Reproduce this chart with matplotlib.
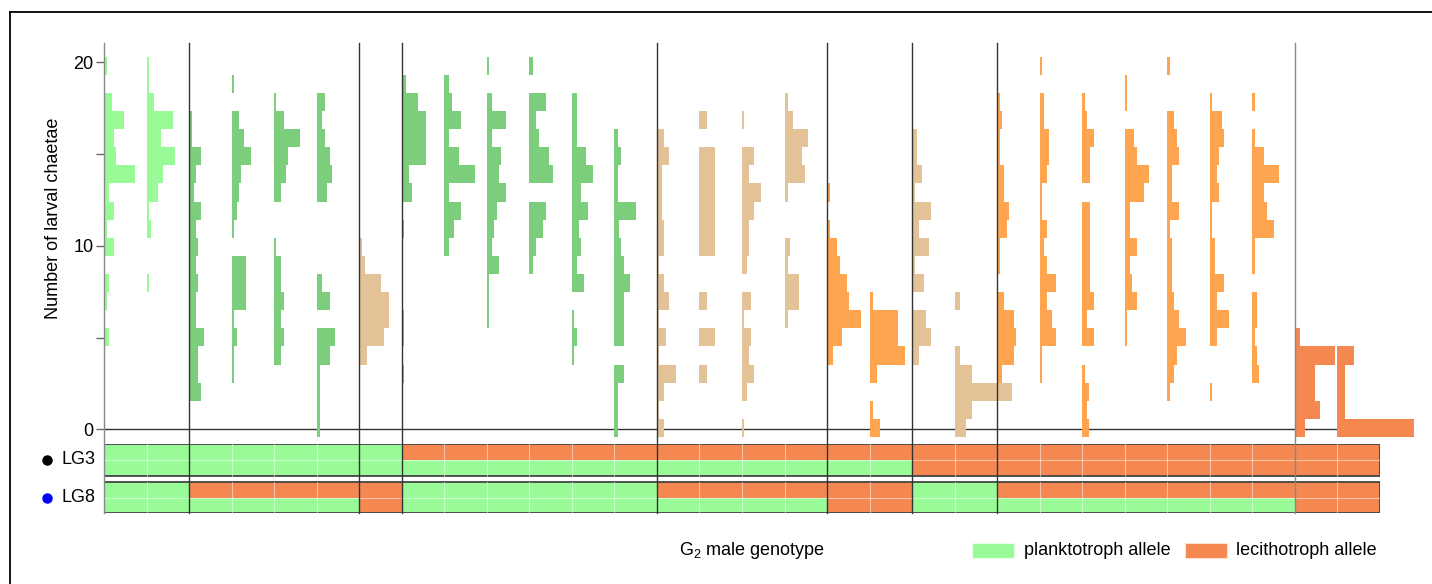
import numpy as np
import matplotlib.pyplot as plt
from matplotlib.patches import Rectangle
from matplotlib.lines import Line2D
from matplotlib.transforms import blended_transform_factory

plt.rcParams['font.family'] = 'Liberation Sans'
plt.rcParams['mathtext.fontset'] = 'custom'
plt.rcParams['mathtext.rm'] = 'Liberation Sans'

# G2 male genotype groups (families per group), P = planktotroph, L = lecithotroph
group_sizes = [2, 4, 1, 6, 4, 2, 2, 7, 2]
lg3 = ['PP', 'PP', 'PP', 'LP', 'LP', 'LP', 'LL', 'LL', 'LL']
lg8 = ['PP', 'LP', 'LL', 'PP', 'LP', 'LL', 'PP', 'LP', 'LL']

# frequency of larval chaetae counts 0,1,2,... per family (trailing zeros left out)
fam01 = [0, 0, 0, 0, 0, 5.3, 0, 3, 5.3, 0, 10.3, 3, 10.3, 5.3, 31.3, 12, 10.3, 19.7, 7.7, 0, 3]
fam02 = [0, 0, 0, 0, 0, 0, 0, 0, 2.3, 0, 0, 4.7, 2.3, 11.7, 16.7, 28.3, 14.3, 26, 7, 2.3, 2.3]
fam03 = [0, 0, 12, 9.3, 9.3, 14.7, 6.7, 6.7, 9.3, 6.7, 9.3, 6.7, 12, 5, 6.7, 12, 2.7, 2.7]
fam04 = [0, 0, 0, 2.7, 2.7, 5, 2.7, 14.3, 14.3, 14.3, 0, 2.7, 5, 7.3, 9.7, 19.3, 12.3, 7.3, 0, 2.7]
fam05 = [0, 0, 0, 0, 7.3, 9.7, 7.3, 9.7, 7.3, 7.3, 2.3, 0, 0, 7.3, 12, 14.3, 26.3, 9.7, 2.3]
fam06 = [3, 3, 3, 3, 13, 18, 0, 13, 5.3, 0, 0, 0, 0, 10.3, 15.3, 13, 8, 5.3, 8]
fam07 = [0, 0, 0, 0, 7.7, 24.3, 29.3, 29.3, 22, 5.3, 3]
fam08 = [0, 0, 0, 2.7, 0, 2.7, 2.7, 0, 0, 0, 0, 2.7, 0, 10, 7.3, 24, 24, 24, 16.7, 4.7]
fam09 = [0, 0, 0, 0, 0, 0, 0, 0, 0, 0, 4.7, 9.7, 16.7, 4.7, 31, 14.3, 4.7, 16.7, 7.3, 4.7]
fam10 = [0, 0, 0, 0, 0, 0, 2.3, 2.3, 2.3, 12, 5, 7.3, 9.7, 19, 12, 14.3, 5, 19, 5, 0, 2.3]
fam11 = [0, 0, 0, 0, 0, 0, 0, 0, 0, 3.3, 6.3, 13.3, 16.7, 0, 23.3, 19.7, 9.7, 7, 16.7, 0, 3.3]
fam12 = [0, 0, 0, 0, 2.3, 4.7, 2.3, 0, 11.7, 4.7, 9.3, 7, 16.3, 9.3, 21, 14, 4.7, 4.7, 4.7]
fam13 = [3.3, 3.3, 3.3, 9.3, 0, 9.3, 9.3, 9.3, 15.7, 9.3, 6.3, 4.7, 22, 3.3, 3.3, 6.3, 3.3]
fam14 = [7, 2.3, 7, 19, 2.3, 9.3, 2.3, 11.7, 7, 2.3, 7, 7, 4.7, 4.7, 4.7, 11.7, 7]
fam15 = [0, 0, 0, 8, 0, 16, 0, 8, 0, 0, 16, 16, 16, 16, 16, 16, 0, 8]
fam16 = [2.3, 0, 4.7, 12, 7, 9.3, 2.3, 9.3, 0, 4.7, 7, 7, 12, 19, 7, 12, 0, 2.3]
fam17 = [0, 0, 0, 0, 0, 0, 3, 14.3, 14.3, 3, 5.7, 0, 0, 3, 20.7, 17.3, 23.3, 8.7, 3]
fam18 = [0, 0, 0, 0, 5.7, 15, 34, 22, 19.7, 12.7, 10, 3.3, 0, 3.3]
fam19 = [10.7, 3.3, 0, 7.3, 35.7, 28.7, 28.7, 3.3]
fam20 = [0, 0, 0, 0, 7.3, 19.3, 14.3, 0, 12, 2.7, 17, 7.3, 19.3, 2.7, 10, 5, 5]
fam21 = [11.3, 17.7, 57.7, 17.7, 5.7, 0, 0, 5.7]
fam22 = [0, 0, 0, 4.7, 16.3, 19, 16.3, 7, 0, 2.3, 2.3, 9.3, 11.7, 7, 7, 2.3, 2.3, 4.7, 2.3]
fam23 = [0, 0, 0, 2.3, 2.3, 16.7, 12, 7, 16.7, 7, 4.7, 7, 2.3, 2.3, 7, 9.3, 9.3, 4.7, 4.7, 0, 2.3]
fam24 = [6.7, 5, 6.7, 2.7, 0, 12, 5, 12, 7.3, 7.3, 7.3, 7.3, 7.3, 0, 7.3, 7.3, 12, 5, 2.7]
fam25 = [0, 0, 0, 0, 0, 2.3, 2.3, 11.7, 7, 4.7, 11.7, 4.7, 4.7, 18.7, 23.7, 11.7, 9.3, 0, 2.3, 2.3]
fam26 = [0, 0, 2.3, 7, 9.3, 19, 12, 7, 4.7, 4.7, 4.7, 2.3, 12, 4.7, 4.7, 12, 9.3, 7, 0, 0, 2.3]
fam27 = [0, 0, 2.3, 0, 0, 7, 19, 7, 14.3, 4.7, 4.7, 2.3, 2.3, 9.3, 7, 9.3, 14.3, 12, 2.3]
fam28 = [0, 0, 0, 7, 4.7, 2.7, 4.7, 4.7, 0, 2.3, 2.3, 21.3, 14.3, 12, 26.3, 12, 2.7, 0, 2.7]
fam29 = [9.7, 24.7, 20, 20, 39.7, 4.7]
fam30 = [76, 8, 8, 8, 16.7]

families = [fam01, fam02, fam03, fam04, fam05, fam06, fam07, fam08, fam09, fam10,
            fam11, fam12, fam13, fam14, fam15, fam16, fam17, fam18, fam19, fam20,
            fam21, fam22, fam23, fam24, fam25, fam26, fam27, fam28, fam29, fam30]

# colour by number of lecithotroph alleles (0..4)
hist_colors = ['#98FB98', '#7CCD7C', '#E2C296', '#FFA54F', '#F58750']
allele_color = {'P': '#98FB98', 'L': '#F58750'}

COL_SCALE = 42.5          # frequency units spanned by one family column
nbins = 21
bw = 0.987
edges = -0.42 + bw * np.arange(nbins + 1)
centers = (edges[:-1] + edges[1:]) / 2

W, H = 1432, 584
fig = plt.figure(figsize=(W / 100, H / 100), dpi=100)

def fx(x):
    return x / W

def fy(y):
    return 1 - y / H

ax = fig.add_axes([fx(104), fy(437), (1380 - 104) / W, (437 - 43.3) / H])
ax.set_xlim(0, 30)
ax.set_ylim(-0.42, 21.04)
for s in ax.spines.values():
    s.set_visible(False)
ax.set_xticks([])
ax.set_yticks([0, 5, 10, 15, 20])
ax.set_yticklabels(['0', '', '10', '', '20'])
ax.tick_params(axis='y', length=6, width=1, color='#666', pad=1.5, labelsize=13)

# family index -> group index
fam_group = np.repeat(np.arange(len(group_sizes)), group_sizes)
boundaries = np.concatenate([[0], np.cumsum(group_sizes)[:-1]])

ax.axhline(0, color='#333', lw=1, zorder=1)
for i, fam in enumerate(families):
    g = fam_group[i]
    nL = lg3[g].count('L') + lg8[g].count('L')
    vals = np.pad(np.array(fam, dtype=float), (0, nbins - len(fam)))
    m = vals > 0
    ax.barh(centers[m], vals[m] / COL_SCALE, height=bw, left=i,
            color=hist_colors[nL], lw=0, zorder=2, clip_on=False)

# genotype strip
sax = fig.add_axes([fx(104), fy(513.3), (1380 - 104) / W, 69 / H])
sax.set_xlim(0, 30)
sax.set_ylim(0, 4.4)
sax.axis('off')
for i in range(len(families)):
    g = fam_group[i]
    for geno, base in ((lg3[g], 2.4), (lg8[g], 0)):
        sax.add_patch(Rectangle((i, base + 1), 1, 1, fc=allele_color[geno[0]], lw=0))
        sax.add_patch(Rectangle((i, base), 1, 1, fc=allele_color[geno[1]], lw=0))
for base in (2.4, 0):
    for i in range(1, 30):
        sax.plot([i, i], [base, base + 2], color='white', lw=0.8, alpha=0.5)
    sax.plot([0, 30], [base + 1, base + 1], color='white', lw=0.8, alpha=0.5)
    sax.add_patch(Rectangle((0, base), 30, 2, fill=False, ec='#444', lw=1.3))

# group separators through both panels
tr = blended_transform_factory(ax.transData, fig.transFigure)
for b in boundaries:
    col = '#888' if b in (0, 28) else '#333'
    fig.add_artist(Line2D([b, b], [fy(43.3), fy(513.3)], transform=tr,
                          color=col, lw=1, zorder=5))

fig.text(fx(54), fy(218.5), 'Number of larval chaetae', rotation=90,
         ha='center', va='center', fontsize=13)
fig.text(fx(95), fy(459.7), 'LG3', ha='right', va='center', fontsize=13)
fig.text(fx(95), fy(497.5), 'LG8', ha='right', va='center', fontsize=13)
fig.add_artist(Line2D([fx(47.3)], [fy(459.5)], marker='o', ms=6.5, color='black', lw=0))
fig.add_artist(Line2D([fx(47.3)], [fy(497.5)], marker='o', ms=6.5, color='blue', lw=0))

fig.text(fx(751.7), fy(550.7), 'G$_2$ male genotype', ha='center', va='center', fontsize=13)
fig.add_artist(Rectangle((fx(972.3), fy(558.3)), 42 / W, 15.6 / H, transform=fig.transFigure,
                         fc=allele_color['P'], ec='#e6ffe6', lw=0.8))
fig.text(fx(1024), fy(550.7), 'planktotroph allele', ha='left', va='center', fontsize=13)
fig.add_artist(Rectangle((fx(1185), fy(558.3)), 42 / W, 15.6 / H, transform=fig.transFigure,
                         fc=allele_color['L'], ec='#fde0d0', lw=0.8))
fig.text(fx(1236), fy(550.7), 'lecithotroph allele', ha='left', va='center', fontsize=13)

# frame of the original panel
fig.add_artist(Line2D([fx(10), 1], [fy(11.7), fy(11.7)], color='black', lw=1.3))
fig.add_artist(Line2D([fx(10), fx(10)], [0, fy(11.7)], color='black', lw=1.3))

fig.savefig('out.png', dpi=100)
